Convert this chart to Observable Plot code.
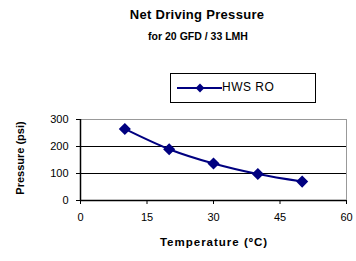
<!DOCTYPE html>
<html><head><meta charset="utf-8">
<script src="https://cdn.jsdelivr.net/npm/d3@7"></script>
<script src="https://cdn.jsdelivr.net/npm/@observablehq/plot@0.6"></script>
<style>
body{margin:0;background:#fff;font-family:"Liberation Sans",Arial,sans-serif;}
#wrap{position:relative;width:356px;height:261px;}
#wrap svg{position:absolute;left:0;top:0;}
.t{position:absolute;font-weight:bold;white-space:nowrap;transform:translateX(-50%);color:#000;}
#legend{position:absolute;left:170px;top:73px;width:146px;height:30px;border:1px solid #000;box-sizing:border-box;font-size:12px;}
</style></head><body>
<div id="wrap"></div>
<script>
const temperatures = [10, 20, 30, 40, 50];
const pressures = [265, 190, 137, 98, 70];
const seriesName = "HWS RO";
const xTicks = [0, 15, 30, 45, 60];
const yTicks = [0, 100, 200, 300];
const titleText = "Net Driving Pressure";
const subtitleText = "for 20 GFD / 33 LMH";
const xLabel = "Temperature (ºC)";
const yLabel = "Pressure (psi)";

const data = temperatures.map((t, i) => ({t, p: pressures[i]}));
const color = "#000080";

const chart = Plot.plot({
  width: 356, height: 261,
  marginLeft: 80, marginRight: 10, marginTop: 119, marginBottom: 61,
  style: {fontFamily: "Liberation Sans, Arial, sans-serif", fontSize: "11px", background: "white"},
  x: {domain: [0, 60], ticks: xTicks, label: null},
  y: {domain: [0, 300], ticks: yTicks, label: null},
  marks: [
    Plot.ruleY(yTicks.filter(d => d > 0 && d < 300), {stroke: "#000", strokeWidth: 1}),
    Plot.frame({stroke: "#999"}),
    Plot.axisX({ticks: xTicks, tickSize: 4, tickPadding: 9, fontSize: 11}),
    Plot.axisY({ticks: yTicks, tickSize: 4, tickPadding: 8, fontSize: 11}),
    Plot.ruleX([0], {stroke: "#000", strokeWidth: 1.5}),
    Plot.ruleY([0], {stroke: "#000", strokeWidth: 1.5}),
    Plot.line(data, {x: "t", y: "p", stroke: color, strokeWidth: 2, curve: "catmull-rom"}),
    Plot.dot(data, {x: "t", y: "p", fill: color, r: 4.5, symbol: "diamond2", stroke: color})
  ]
});
const wrap = document.getElementById("wrap");
wrap.appendChild(chart);

function addText(txt, x, y, size, extra) {
  const d = document.createElement("div");
  d.className = "t"; d.textContent = txt;
  d.style.left = x + "px"; d.style.top = y + "px"; d.style.fontSize = size + "px";
  if (extra) Object.assign(d.style, extra);
  wrap.appendChild(d);
}
addText(titleText, 197, 7, 13, {letterSpacing: "0.3px"});
addText(subtitleText, 198, 30, 10.5);
addText(xLabel, 214, 236, 11.5, {letterSpacing: "1px"});
const yl = document.createElement("div");
yl.className = "t"; yl.textContent = yLabel;
Object.assign(yl.style, {left: "20px", top: "152px", fontSize: "11px", transform: "translate(-50%,0) rotate(-90deg)", transformOrigin: "50% 50%"});
wrap.appendChild(yl);

const lg = document.createElement("div");
lg.id = "legend";
const ls = d3.create("svg").attr("width", 52).attr("height", 28).style("position","absolute").style("left","4px").style("top","0px");
ls.append("line").attr("x1", 2).attr("x2", 47).attr("y1", 14).attr("y2", 14).attr("stroke", color).attr("stroke-width", 2);
ls.append("path").attr("d", d3.symbol(d3.symbolDiamond2, 50)()).attr("transform", "translate(25,14)").attr("fill", color);
lg.appendChild(ls.node());
const lt = document.createElement("span");
lt.textContent = seriesName;
Object.assign(lt.style, {position: "absolute", left: "51px", top: "6px", letterSpacing: "0.5px"});
lg.appendChild(lt);
wrap.appendChild(lg);
</script>
</body></html>
